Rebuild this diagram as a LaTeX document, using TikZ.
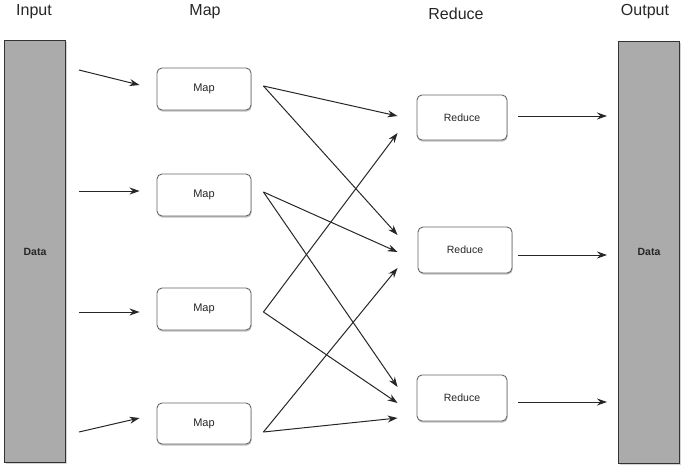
\documentclass[tikz,border=0pt]{standalone}
\usepackage{fontspec}
\setmainfont{Liberation Sans}
\usetikzlibrary{arrows.meta,shadows}
\begin{document}
\begin{tikzpicture}[x=1pt,y=-1pt,
  bar/.style={draw=black!80,line width=1pt,fill=black!33,minimum width=61pt,minimum height=422pt,inner sep=0pt,
    drop shadow={shadow xshift=1.5pt,shadow yshift=-1.5pt,opacity=0.35}},
  box/.style={draw=black!60,line width=0.9pt,rounded corners=5pt,fill=white,inner sep=0pt,
    drop shadow={shadow xshift=0.6pt,shadow yshift=-1.6pt,opacity=0.5}},
  title/.style={font=\fontsize{16}{18}\selectfont,text=black!85},
  mapbox/.style={box,minimum width=94pt,font=\fontsize{11}{13}\selectfont,text=black!85},
  redbox/.style={box,font=\fontsize{10.5}{12}\selectfont,text=black!85},
  datalabel/.style={font=\fontsize{10.5}{12}\selectfont\bfseries,text=black!85},
  arr/.style={draw=black!85,line width=1pt,-{Stealth[length=10pt,width=7pt]}}
]
\useasboundingbox (0,0) rectangle (689,472);
% titles
\node[title] (tin) at (34,12) {Input};
\node[title] (tmap) at (205,12) {Map};
\node[title] (tred) at (456,14) {Reduce};
\node[title] (tout) at (645,12) {Output};
% bars
\node[bar] (din) at (35,251.5) {};
\node[datalabel] (dinl) at (din) {Data};
\node[bar] (dout) at (649,252) {};
\node[datalabel] (doutl) at (dout) {Data};
% map boxes
\node[mapbox,minimum height=42pt] (m1) at (204,89) {Map};
\node[mapbox,minimum height=42pt] (m2) at (204,195) {Map};
\node[mapbox,minimum height=42pt] (m3) at (204,309) {Map};
\node[mapbox,minimum height=41pt] (m4) at (204,423.5) {Map};
% reduce boxes
\node[redbox,minimum width=90pt,minimum height=45pt] (r1) at (462,117.5) {Reduce};
\node[redbox,minimum width=94pt,minimum height=46pt] (r2) at (465,250) {Reduce};
\node[redbox,minimum width=90pt,minimum height=46pt] (r3) at (462,398) {Reduce};
% input arrows
\coordinate (i1) at (79,70);
\coordinate (i2) at (79,191);
\coordinate (i3) at (79,312);
\coordinate (i4) at (79,432);
\draw[arr] (i1) -- ([shift={(-17,-4)}]m1.west);
\draw[arr] (i2) -- ([shift={(-17,-4)}]m2.west);
\draw[arr] (i3) -- ([shift={(-17,3)}]m3.west);
\draw[arr] (i4) -- ([shift={(-17,-5.5)}]m4.west);
% map -> reduce
\draw[arr] ([shift={(12,-3)}]m1.east) -- ([shift={(-19,-1.5)}]r1.west);
\draw[arr] ([shift={(12,-3)}]m1.east) -- ([shift={(-20,-15)}]r2.west);
\draw[arr] ([shift={(12,-3)}]m2.east) -- ([shift={(-20,2)}]r2.west);
\draw[arr] ([shift={(12,-3)}]m2.east) -- ([shift={(-19,-11)}]r3.west);
\draw[arr] ([shift={(12,3)}]m3.east) -- ([shift={(-19,15.5)}]r1.west);
\draw[arr] ([shift={(12,3)}]m3.east) -- ([shift={(-19,5)}]r3.west);
\draw[arr] ([shift={(12,8.5)}]m4.east) -- ([shift={(-20,18)}]r2.west);
\draw[arr] ([shift={(12,8.5)}]m4.east) -- ([shift={(-19,20)}]r3.west);
% reduce -> output
\draw[arr] ([shift={(11,-1.5)}]r1.east) -- ([shift={(-11,-1.5)}]r1.east -| dout.west);
\draw[arr] ([shift={(6,5)}]r2.east) -- ([shift={(-11,5)}]r2.east -| dout.west);
\draw[arr] ([shift={(11,4)}]r3.east) -- ([shift={(-11,4)}]r3.east -| dout.west);
\end{tikzpicture}
\end{document}
